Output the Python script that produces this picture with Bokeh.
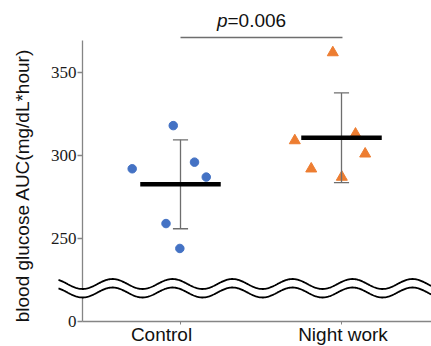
import numpy as np
from bokeh.plotting import figure
from bokeh.models import Range1d, FixedTicker, Label
from bokeh.core.properties import value
from bokeh.embed import file_html
from bokeh.resources import INLINE

# ---------------- data ----------------
categories = ["Control", "Night work"]
control_auc = [292, 318, 296, 287, 259, 244]
control_jitter = [-0.30, -0.045, 0.087, 0.16, -0.09, -0.004]
night_auc = [362, 309, 313, 301, 292, 287]
night_jitter = [-0.054, -0.29, 0.087, 0.147, -0.188, 0.002]
y_ticks = [200, 250, 300, 350]          # 200 = position of the broken-axis "0"
y_tick_labels = ["0", "250", "300", "350"]
y_title = "blood glucose AUC(mg/dL*hour)"
p_label = "p"
p_value = "=0.006"

# ---------------- geometry (screen pixels -> data units) ----------------
W, H = 431, 346
px_per_x = 161.0          # pixels per category step
px_per_y = 1.66           # pixels per AUC unit
x_start = 1 - 180 / px_per_x
x_end = x_start + W / px_per_x
y_start = 200 - 25 / px_per_y
y_end = y_start + H / px_per_y
def X(px):  # screen x -> data x
    return x_start + px / px_per_x
def Y(py):  # screen y -> data y
    return y_end - py / px_per_y
SHIFT = 7                 # observed baseline offset of svg text

axis_x = X(82)            # where the y axis stands
axis_top = Y(40)

p = figure(width=W, height=H, output_backend="svg", toolbar_location=None,
           x_range=Range1d(x_start, x_end), y_range=Range1d(y_start, y_end),
           min_border_left=0, min_border_right=0, min_border_top=0, min_border_bottom=0)
p.outline_line_color = None
p.grid.visible = False
p.background_fill_color = "white"
p.border_fill_color = "white"

axis_gray = "#858585"
err_gray = "#6e6e6e"

# y axis (ticks + labels from bokeh, standing at a fixed location)
p.yaxis.fixed_location = axis_x
p.yaxis.ticker = FixedTicker(ticks=y_ticks)
p.yaxis.major_label_overrides = {t: l for t, l in zip(y_ticks, y_tick_labels)}
p.yaxis.minor_tick_line_color = None
p.yaxis.major_tick_in = 0
p.yaxis.major_tick_out = 5
p.yaxis.major_tick_line_color = axis_gray
p.yaxis.major_tick_line_width = 1.3
p.yaxis.axis_line_color = None
p.yaxis.major_label_standoff = 1
p.yaxis.major_label_text_font = "Liberation Sans Narrow"
p.yaxis.major_label_text_font_size = "17px"
p.yaxis.major_label_text_color = "#1a1a1a"

# x axis (ticks only; labels drawn as text)
p.xaxis.fixed_location = 200
p.xaxis.ticker = FixedTicker(ticks=[1, 2])
p.xaxis.major_label_overrides = {1: "", 2: ""}
p.xaxis.major_label_text_font_size = "1px"
p.xaxis.minor_tick_line_color = None
p.xaxis.major_tick_in = 0
p.xaxis.major_tick_out = 3
p.xaxis.major_tick_line_color = axis_gray
p.xaxis.axis_line_color = None

# axis lines
p.segment(x0=[axis_x], x1=[axis_x], y0=[200], y1=[axis_top],
          line_color=axis_gray, line_width=1.3)
p.segment(x0=[axis_x], x1=[x_end], y0=[200], y1=[200],
          line_color=axis_gray, line_width=1.6)

# category labels and y title
cat_label_x = [X(161), X(342.5)]
p.text(x=cat_label_x, y=[Y(340.5 - SHIFT)] * 2, text=categories,
       text_font=value("Liberation Sans"), text_font_size="19px",
       text_align="center", text_baseline="alphabetic", text_color="#111111")
p.text(x=[X(29 - SHIFT)], y=[Y(185)], text=[y_title], angle=np.pi / 2,
       text_font=value("Liberation Sans"), text_font_size="19px",
       text_align="center", text_baseline="alphabetic", text_color="#111111")

# ---------------- points ----------------
p.scatter(x=[1 + j for j in control_jitter], y=control_auc, marker="circle",
          size=8.5, fill_color="#4472C4", line_color="#4472C4")
p.scatter(x=[2 + j for j in night_jitter], y=night_auc, marker="triangle",
          size=11, fill_color="#ED7D31", line_color="#ED7D31")

# ---------------- mean +/- SD ----------------
groups = [control_auc, night_auc]
means = [float(np.mean(g)) for g in groups]
sds = [float(np.std(g, ddof=1)) for g in groups]
centers = [1, 2]
cap = 0.047
half = 0.25
tops = [m + s for m, s in zip(means, sds)]
bots = [m - s for m, s in zip(means, sds)]
p.segment(x0=centers, x1=centers, y0=bots, y1=tops, line_color=err_gray, line_width=1.3)
p.segment(x0=[c - cap for c in centers], x1=[c + cap for c in centers],
          y0=tops, y1=tops, line_color=err_gray, line_width=1.3)
p.segment(x0=[c - cap for c in centers], x1=[c + cap for c in centers],
          y0=bots, y1=bots, line_color=err_gray, line_width=1.3)
p.segment(x0=[c - half for c in centers], x1=[c + half for c in centers],
          y0=means, y1=means, line_color="black", line_width=4.5, line_cap="butt")

# ---------------- axis break (wavy) ----------------
period = 60 / px_per_x
amp = 5 / px_per_y
up_c = Y(283.5)
lo_c = Y(292.0)
wx = np.linspace(X(58), x_end, 600)
phase = np.cos(2 * np.pi * (wx - axis_x) / period)
upper = up_c - amp * phase
lower = lo_c - amp * phase
p.patch(x=list(wx) + list(wx[::-1]), y=list(upper) + list(lower[::-1]),
        fill_color="white", line_color=None)
p.line(x=wx, y=upper, line_color="black", line_width=1.8)
p.line(x=wx, y=lower, line_color="black", line_width=1.8)

# ---------------- significance bracket ----------------
p.segment(x0=[1], x1=[2.006], y0=[Y(37)], y1=[Y(37)], line_color=err_gray, line_width=1.3)
eq_x = X(227)
p.add_layout(Label(x=eq_x, y=Y(26.7 - SHIFT), text=p_label, text_font="Liberation Sans",
                   text_font_style="italic", text_font_size="19px", text_align="right",
                   text_baseline="alphabetic", text_color="#111111"))
p.add_layout(Label(x=eq_x, y=Y(26.7 - SHIFT), text=p_value, text_font="Liberation Sans",
                   text_font_size="19px", text_align="left",
                   text_baseline="alphabetic", text_color="#111111"))

open("out.html", "w").write(file_html(p, INLINE))
